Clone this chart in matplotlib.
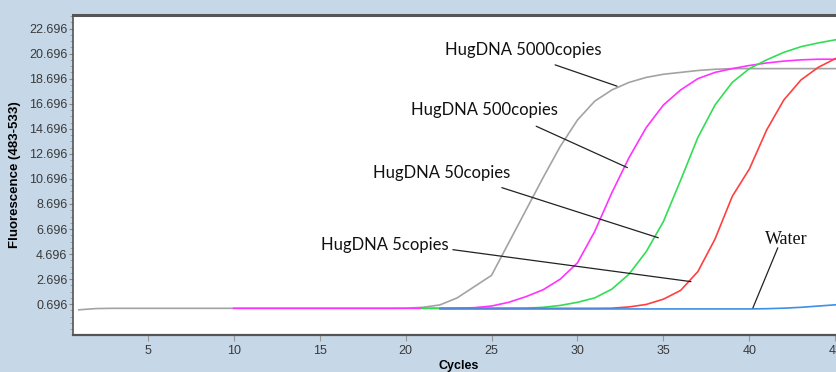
import numpy as np
import matplotlib.pyplot as plt

# qPCR amplification curves
cyc_5000 = np.arange(1, 46)
f_5000 = [0.25, 0.35, 0.37, 0.37, 0.37, 0.37, 0.37, 0.37, 0.37, 0.37,
          0.37, 0.37, 0.37, 0.37, 0.37, 0.37, 0.37, 0.37, 0.37, 0.38,
          0.45, 0.64, 1.2, 2.1, 3.0, 5.6, 8.2, 10.8, 13.3, 15.4,
          16.9, 17.8, 18.4, 18.8, 19.05, 19.2, 19.35, 19.45, 19.5, 19.5,
          19.5, 19.5, 19.5, 19.5, 19.5]

cyc_500 = np.arange(10, 46)
f_500 = [0.37, 0.37, 0.37, 0.37, 0.37, 0.37, 0.37, 0.37, 0.37, 0.37,
         0.37, 0.37, 0.37, 0.38, 0.42, 0.55, 0.85, 1.3, 1.85, 2.7,
         4.0, 6.5, 9.6, 12.4, 14.8, 16.6, 17.8, 18.7, 19.2, 19.5,
         19.75, 19.95, 20.1, 20.2, 20.25, 20.25]

cyc_50 = np.arange(21, 46)
f_50 = [0.37, 0.37, 0.37, 0.37, 0.37, 0.37, 0.38, 0.45, 0.6, 0.85,
        1.2, 1.9, 3.1, 4.9, 7.3, 10.6, 14.0, 16.6, 18.4, 19.5,
        20.2, 20.8, 21.25, 21.55, 21.8]

cyc_5 = np.arange(22, 46)
f_5 = [0.37, 0.37, 0.37, 0.37, 0.37, 0.37, 0.37, 0.37, 0.37, 0.37,
       0.38, 0.48, 0.68, 1.1, 1.8, 3.3, 5.9, 9.3, 11.5, 14.6,
       17.0, 18.6, 19.6, 20.3]

cyc_w = np.arange(22, 46)
f_w = [0.32, 0.32, 0.32, 0.32, 0.32, 0.32, 0.32, 0.32, 0.32, 0.32,
       0.32, 0.32, 0.32, 0.32, 0.32, 0.32, 0.32, 0.32, 0.32, 0.34,
       0.38, 0.45, 0.55, 0.65]

yticks = [0.696, 2.696, 4.696, 6.696, 8.696, 10.696, 12.696, 14.696,
          16.696, 18.696, 20.696, 22.696]
xticks = [5, 10, 15, 20, 25, 30, 35, 40, 45]

# label text, text anchor (left, middle), leader line start, leader line end
labels = [
    ('HugDNA 5000copies', (22.3, 21.0), (28.7, 19.8), (32.3, 18.1)),
    ('HugDNA 500copies', (20.3, 16.2), (27.6, 14.9), (32.9, 11.6)),
    ('HugDNA 50copies', (18.1, 11.2), (25.6, 10.0), (34.7, 6.0)),
    ('HugDNA 5copies', (15.1, 5.45), (22.75, 5.05), (36.6, 2.5)),
]
water = ('Water', (40.9, 5.85), (41.65, 5.2), (40.2, 0.4))

bg = '#c6d7e8'
fig = plt.figure(figsize=(8.36, 3.72), dpi=100, facecolor=bg)
ax = fig.add_axes([73/836, 37/372, 771/836, 320/372])

ax.plot(cyc_5000, f_5000, color='#a3a3a3', lw=1.2)
ax.plot(cyc_500, f_500, color='#ff33ff', lw=1.2)
ax.plot(cyc_50, f_50, color='#33dd55', lw=1.2)
ax.plot(cyc_5, f_5, color='#ff4040', lw=1.2)
ax.plot(cyc_w, f_w, color='#3d8fe8', lw=1.2)

for txt, pos, p0, p1 in labels:
    ax.text(pos[0], pos[1], txt, ha='left', va='center', fontsize=12,
            family=['Lato', 'DejaVu Sans'], color='#111111')
    ax.annotate('', xy=p1, xytext=p0,
                arrowprops=dict(arrowstyle='-', color='#222222', lw=0.9,
                                shrinkA=0, shrinkB=0))
txt, pos, p0, p1 = water
ax.text(pos[0], pos[1], txt, ha='left', va='center', fontsize=13,
        family=['Liberation Serif', 'DejaVu Serif'], color='#111111')
ax.annotate('', xy=p1, xytext=p0,
            arrowprops=dict(arrowstyle='-', color='#222222', lw=0.9,
                            shrinkA=0, shrinkB=0))

ax.set_xlim(0.66, 45.5)
ax.set_ylim(-1.76, 23.78)
ax.set_xticks(xticks)
ax.set_yticks(yticks)
ax.set_yticks(np.arange(-1.304, 23.7, 0.5), minor=True)
ax.set_yticklabels(['%.3f' % v for v in yticks])

tick_font = ['Liberation Sans', 'DejaVu Sans']
for lab in ax.get_xticklabels() + ax.get_yticklabels():
    lab.set_family(tick_font)
    lab.set_fontsize(9)
    lab.set_color('#3a3a3a')
ax.tick_params(axis='y', which='major', length=3, width=0.8, color='#888888', pad=1)
ax.tick_params(axis='y', which='minor', length=2, width=0.6, color='#999999')
ax.tick_params(axis='x', which='major', length=4, width=0.8, color='#999999', pad=3)

for s in ['left', 'bottom', 'top']:
    ax.spines[s].set_color('#555555')
ax.spines['left'].set_linewidth(1.2)
ax.spines['bottom'].set_linewidth(1.6)
ax.spines['top'].set_linewidth(2.2)

ax.set_xlabel('Cycles', fontsize=9, fontweight='bold', family=['Liberation Sans', 'DejaVu Sans'],
              labelpad=2)
ax.set_ylabel('Fluorescence (483-533)', fontsize=9.5, fontweight='bold',
              family=['Liberation Sans', 'DejaVu Sans'], labelpad=6)

fig.savefig('out.png', dpi=100, facecolor=bg)
